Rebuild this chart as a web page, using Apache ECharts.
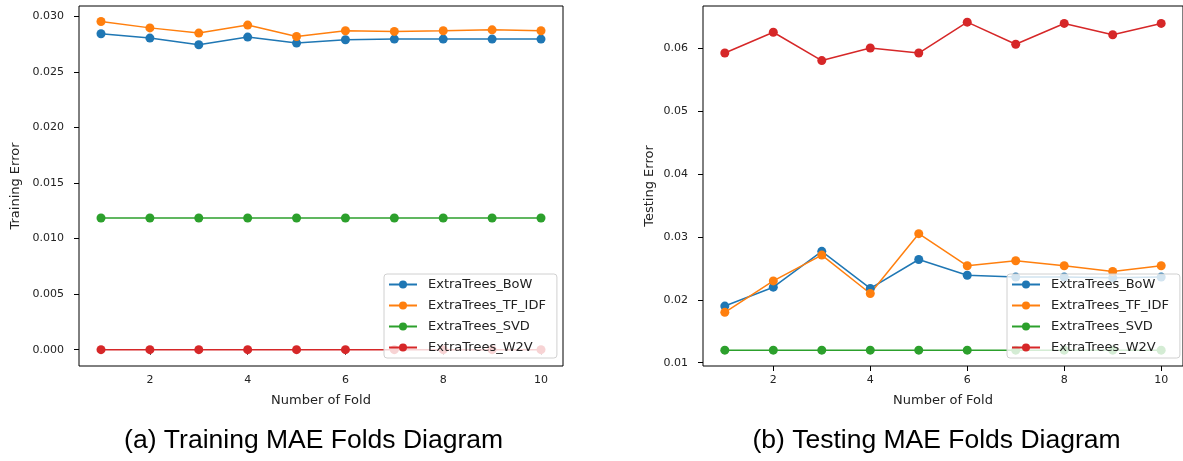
<!DOCTYPE html>
<html>
<head>
<meta charset="utf-8">
<script src="https://cdn.jsdelivr.net/npm/echarts@6/dist/echarts.min.js"></script>
<style>
html,body{margin:0;padding:0;background:#fff;}
#chart{width:1183px;height:461px;}
</style>
</head>
<body>
<div id="chart"></div>
<script>
// ---- data ----
const folds = [1, 2, 3, 4, 5, 6, 7, 8, 9, 10];
const seriesNames = ['ExtraTrees_BoW', 'ExtraTrees_TF_IDF', 'ExtraTrees_SVD', 'ExtraTrees_W2V'];

const trainBoW   = [0.02845, 0.02806, 0.02746, 0.02815, 0.02761, 0.02791, 0.02797, 0.02797, 0.02797, 0.02797];
const trainTFIDF = [0.02955, 0.02898, 0.02851, 0.02923, 0.02820, 0.02872, 0.02866, 0.02872, 0.02880, 0.02872];
const trainSVD   = [0.01186, 0.01186, 0.01186, 0.01186, 0.01186, 0.01186, 0.01186, 0.01186, 0.01186, 0.01186];
const trainW2V   = [0, 0, 0, 0, 0, 0, 0, 0, 0, 0];

const testBoW   = [0.0190, 0.0220, 0.0277, 0.0218, 0.0264, 0.0239, 0.0236, 0.0236, 0.0235, 0.0236];
const testTFIDF = [0.0180, 0.0230, 0.0271, 0.0210, 0.0305, 0.0254, 0.0262, 0.0254, 0.0245, 0.0254];
const testSVD   = [0.0120, 0.0120, 0.0120, 0.0120, 0.0120, 0.0120, 0.0120, 0.0120, 0.0120, 0.0120];
const testW2V   = [0.0592, 0.0625, 0.0580, 0.0600, 0.0592, 0.0641, 0.0606, 0.0639, 0.0621, 0.0639];

const xTicks = [2, 4, 6, 8, 10];
const trainYTicks = [0, 0.005, 0.010, 0.015, 0.020, 0.025, 0.030];
const testYTicks = [0.01, 0.02, 0.03, 0.04, 0.05, 0.06];

const captions = ['(a) Training MAE Folds Diagram', '(b) Testing MAE Folds Diagram'];
const yNames = ['Training Error', 'Testing Error'];
const xName = 'Number of Fold';

// ---- chart ----
const colors = ['#1f77b4', '#ff7f0e', '#2ca02c', '#d62728'];
const FONT = 'DejaVu Sans';
const chart = echarts.init(document.getElementById('chart'));

function pairs(vals) { return folds.map((f, i) => [f, vals[i]]); }

function xAxis(gi) {
  return {
    type: 'value', gridIndex: gi, min: 0.55, max: 10.45,
    name: xName, nameLocation: 'middle', nameGap: 28,
    nameTextStyle: { fontFamily: FONT, fontSize: 13, color: '#222' },
    axisLine: { show: false },
    axisTick: { show: true, length: 5, customValues: xTicks, lineStyle: { color: '#000' } },
    axisLabel: { customValues: xTicks, margin: 9, fontFamily: FONT, fontSize: 11, color: '#222' },
    splitLine: { show: false }
  };
}
function yAxis(gi, min, max, ticks, fmt, gap) {
  return {
    type: 'value', gridIndex: gi, min: min, max: max,
    name: yNames[gi], nameLocation: 'middle', nameGap: gap, nameRotate: 90,
    nameTextStyle: { fontFamily: FONT, fontSize: 13, color: '#222' },
    axisLine: { show: false },
    axisTick: { show: true, length: 5, customValues: ticks, lineStyle: { color: '#000' } },
    axisLabel: { customValues: ticks, margin: 15, fontFamily: FONT, fontSize: 11, color: '#222',
      formatter: v => v.toFixed(fmt) },
    splitLine: { show: false }
  };
}

const trainSets = [trainBoW, trainTFIDF, trainSVD, trainW2V];
const testSets = [testBoW, testTFIDF, testSVD, testW2V];
const series = [];
[trainSets, testSets].forEach((sets, gi) => {
  sets.forEach((vals, si) => {
    series.push({
      type: 'line', name: seriesNames[si], xAxisIndex: gi, yAxisIndex: gi,
      data: pairs(vals), symbol: 'circle', symbolSize: 9, showSymbol: true,
      lineStyle: { width: 1.5, color: colors[si] },
      itemStyle: { color: colors[si] }, color: colors[si],
      animation: false, clip: false
    });
  });
});

function legend(left) {
  return {
    data: seriesNames, orient: 'vertical', left: left, top: 274,
    itemWidth: 28, itemHeight: 10, itemGap: 8,
    padding: [4, 11, 4, 4],
    backgroundColor: 'rgba(255,255,255,0.8)', borderColor: '#d0d0d0', borderWidth: 1, borderRadius: 3,
    textStyle: { fontFamily: FONT, fontSize: 13, lineHeight: 13, color: '#222', padding: [0, 0, 0, 6] },
    selectedMode: false, z: 10
  };
}

chart.setOption({
  animation: false,
  color: colors,
  grid: [
    { left: 79, top: 6, width: 484, height: 360, show: true, borderColor: '#000', borderWidth: 1, backgroundColor: 'transparent' },
    { left: 703, top: 6, width: 484, height: 360, show: true, borderColor: '#000', borderWidth: 1, backgroundColor: 'transparent' }
  ],
  xAxis: [xAxis(0), xAxis(1)],
  yAxis: [
    yAxis(0, -0.00147, 0.03095, trainYTicks, 3, 57),
    yAxis(1, 0.00948, 0.06667, testYTicks, 2, 47)
  ],
  legend: [legend(384), legend(1007)],
  series: series,
  graphic: [
    { type: 'text', x: 313.6, y: 441, style: { text: captions[0], font: '26.5px "Liberation Sans", Arial, sans-serif', fill: '#000', textAlign: 'center', textVerticalAlign: 'middle' } },
    { type: 'text', x: 936.5, y: 441, style: { text: captions[1], font: '26.5px "Liberation Sans", Arial, sans-serif', fill: '#000', textAlign: 'center', textVerticalAlign: 'middle' } }
  ]
});
</script>
</body>
</html>
